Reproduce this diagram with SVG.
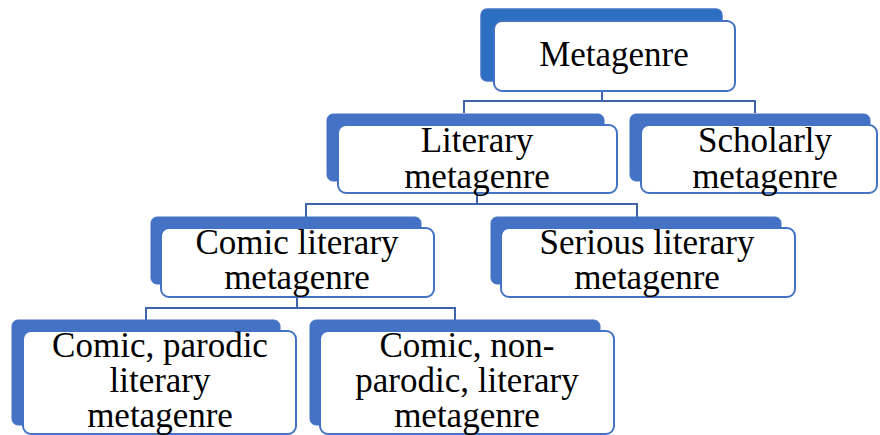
<svg xmlns="http://www.w3.org/2000/svg" width="880" height="435" viewBox="0 0 880 435">
<style>
.back{fill:#4472C4;stroke:#4472C4;stroke-width:1}
.front{fill:#fff;stroke:#4472C4;stroke-width:2}
.conn{fill:none;stroke:#3E64AA;stroke-width:2}
text{font-family:"Liberation Serif","Times New Roman",serif;font-size:35px;fill:#000;text-anchor:middle}
</style>
<rect width="880" height="435" fill="#fff"/>
<g id="connectors">
<path class="conn" d="M602 91V101M464 113V101H755V113"/>
<path class="conn" d="M477 193V204M306 217V204H637V217"/>
<path class="conn" d="M297 297V308M146 320V308H455V320"/>
</g>
<g id="n-metagenre">
<rect x="481" y="9" width="241" height="72" rx="6" fill="#2C6FC0" stroke="#4472C4" stroke-width="1.5"/>
<rect class="front" x="494" y="21" width="241" height="70" rx="8"/>
<text x="614" y="66">Metagenre</text>
</g>
<g id="n-literary">
<rect class="back" x="327" y="114" width="277" height="67" rx="6"/>
<rect class="front" x="338" y="125" width="279" height="68" rx="8"/>
<text x="477" y="152">Literary</text>
<text x="477" y="188">metagenre</text>
</g>
<g id="n-scholarly">
<rect class="back" x="630" y="114" width="240" height="67" rx="6"/>
<rect class="front" x="641" y="125" width="236" height="68" rx="8"/>
<text x="765" y="152">Scholarly</text>
<text x="765" y="188">metagenre</text>
</g>
<g id="n-comic">
<rect class="back" x="151" y="217" width="270" height="67" rx="6"/>
<rect class="front" x="161" y="228" width="273" height="69" rx="8"/>
<text x="297" y="254">Comic literary</text>
<text x="297" y="289">metagenre</text>
</g>
<g id="n-serious">
<rect class="back" x="491" y="217" width="290" height="67" rx="6"/>
<rect class="front" x="501" y="228" width="294" height="69" rx="8"/>
<text x="647" y="254">Serious literary</text>
<text x="647" y="289">metagenre</text>
</g>
<g id="n-parodic">
<rect class="back" x="12" y="320" width="268" height="105" rx="6"/>
<rect class="front" x="23" y="331" width="273" height="103" rx="8"/>
<text x="160" y="357">Comic, parodic</text>
<text x="160" y="392">literary</text>
<text x="160" y="427">metagenre</text>
</g>
<g id="n-nonparodic">
<rect class="back" x="310" y="320" width="290" height="105" rx="6"/>
<rect class="front" x="320" y="331" width="294" height="103" rx="8"/>
<text x="467" y="357">Comic, non-</text>
<text x="467" y="392">parodic, literary</text>
<text x="467" y="427">metagenre</text>
</g>
</svg>
